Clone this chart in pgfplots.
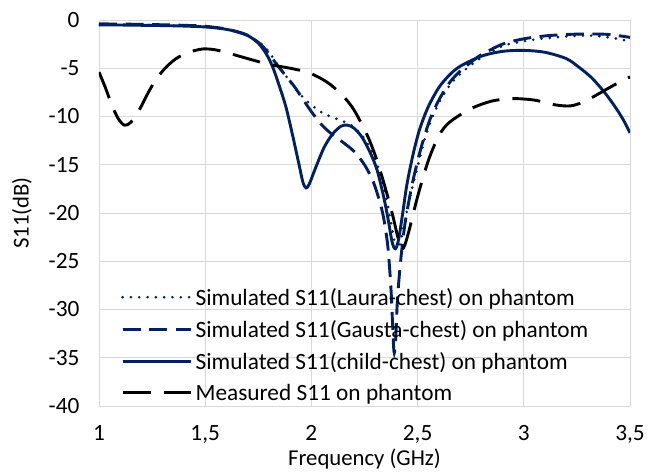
\documentclass[border=0pt]{standalone}
\usepackage{pgfplots}
\pgfplotsset{compat=1.18}
\usepackage{fontspec}
\setmainfont{Carlito}
\definecolor{navy}{HTML}{002060}
\definecolor{gridgray}{HTML}{D9D9D9}
\newcommand{\chartfont}{\fontsize{23.4}{28}\selectfont}
\begin{document}
\begin{tikzpicture}
\path[use as bounding box] (-99bp,-66bp) rectangle (555bp,406bp);
\begin{axis}[
    at={(0,0)}, anchor=south west,
    scale only axis,
    width=531bp, height=386bp,
    xmin=1, xmax=3.5, ymin=-40, ymax=0,
    xtick={1,1.5,2,2.5,3,3.5},
    ytick={-40,-35,-30,-25,-20,-15,-10,-5,0},
    major tick length=0pt,
    grid=major,
    major grid style={gridgray, line width=0.9bp},
    axis line style={gridgray, line width=0.9bp},
    /pgf/number format/use comma,
    /pgf/number format/assume math mode=true,
    tick label style={font=\chartfont, black},
    xticklabel style={yshift=-16bp},
    yticklabel style={xshift=-16bp},
    xlabel={Frequency (GHz)},
    ylabel={S11(dB)},
    label style={font=\fontsize{22.8}{27}\selectfont},
    xlabel style={at={(axis description cs:0.5,-0.137)}, anchor=center},
    ylabel style={at={(axis description cs:-0.145,0.5)}, anchor=center, rotate=0},
    legend cell align=left,
    legend image code/.code={\draw[#1] (0bp,0bp) -- (68bp,0bp);},
    legend style={font=\chartfont, draw=none, fill=none,
        inner sep=0pt, outer sep=0pt, row sep=9.5bp,
        nodes={inner xsep=3.5bp, inner ysep=2bp},
        at={(axis description cs:0.0418,0.311)}, anchor=north west},
    every axis plot/.append style={line width=2.9bp, smooth},
]
\addplot[navy, line cap=round, dash pattern=on 0bp off 8.3bp] coordinates {
(1.0,-0.45) (1.2,-0.5) (1.4,-0.6) (1.5,-0.7) (1.6,-0.95) (1.7,-1.6) (1.76,-2.4)
(1.8,-3.3) (1.84,-4.6) (1.88,-5.8) (1.92,-7.0) (1.96,-8.0) (2.0,-8.8) (2.05,-9.6)
(2.1,-10.1) (2.15,-10.5) (2.2,-11.1) (2.25,-12.3) (2.29,-13.9) (2.32,-15.7)
(2.35,-18.2) (2.37,-20.4) (2.39,-22.8) (2.405,-23.8) (2.42,-23.0) (2.44,-20.8)
(2.47,-17.8) (2.5,-15.2) (2.53,-12.6) (2.56,-10.6) (2.6,-8.6) (2.65,-6.8)
(2.7,-5.6) (2.75,-4.7) (2.8,-3.9) (2.9,-2.7) (3.0,-2.2) (3.1,-1.9) (3.2,-1.7)
(3.3,-1.6) (3.4,-1.8) (3.5,-2.2)
};
\addlegendentry{Simulated S11(Laura-chest) on phantom}
\addplot[navy, dash pattern=on 18bp off 8.5bp] coordinates {
(1.0,-0.4) (1.2,-0.45) (1.4,-0.55) (1.5,-0.65) (1.6,-0.95) (1.7,-1.6) (1.76,-2.5)
(1.8,-3.5) (1.84,-4.7) (1.88,-5.8) (1.92,-6.9) (1.96,-8.2) (2.0,-9.5) (2.05,-10.9)
(2.1,-11.9) (2.15,-12.7) (2.2,-13.6) (2.25,-15.0) (2.29,-16.7) (2.32,-18.7)
(2.34,-20.5) (2.36,-23.5) (2.375,-28) (2.385,-33) (2.39,-34.5) (2.397,-33)
(2.405,-29) (2.42,-25.0) (2.44,-21.2) (2.47,-17.5) (2.5,-14.6) (2.53,-12.2)
(2.56,-10.2) (2.6,-8.3) (2.65,-6.5) (2.7,-5.3) (2.75,-4.4) (2.8,-3.6) (2.9,-2.5)
(3.0,-1.95) (3.1,-1.65) (3.2,-1.5) (3.3,-1.45) (3.4,-1.5) (3.5,-1.8)
};
\addlegendentry{Simulated S11(Gausta-chest) on phantom}
\addplot[navy] coordinates {
(1.0,-0.5) (1.1,-0.52) (1.2,-0.55) (1.3,-0.58) (1.4,-0.63) (1.5,-0.72) (1.58,-0.9)
(1.65,-1.2) (1.7,-1.6) (1.75,-2.4) (1.79,-3.6) (1.82,-5.0) (1.85,-6.9) (1.88,-9.0)
(1.91,-11.8) (1.94,-14.8) (1.96,-16.8) (1.975,-17.4) (1.99,-17.0) (2.02,-15.3)
(2.06,-13.2) (2.1,-11.8) (2.14,-11.0) (2.17,-10.9) (2.2,-11.2) (2.24,-12.2)
(2.28,-13.9) (2.31,-15.6) (2.34,-18.3) (2.36,-20.5) (2.38,-23.0) (2.395,-23.7)
(2.41,-22.8) (2.43,-20.0) (2.45,-17.0) (2.48,-13.8) (2.51,-11.3) (2.55,-9.0)
(2.6,-7.0) (2.65,-5.7) (2.7,-4.8) (2.8,-3.75) (2.9,-3.25) (3.0,-3.15) (3.1,-3.35)
(3.2,-4.0) (3.26,-4.9) (3.32,-6.0) (3.38,-7.5) (3.43,-9.0) (3.47,-10.4) (3.5,-11.7)
};
\addlegendentry{Simulated S11(child-chest) on phantom}
\addplot[black, dash pattern=on 28bp off 13bp] coordinates {
(1.0,-5.4) (1.03,-7.0) (1.06,-8.8) (1.09,-10.2) (1.12,-10.9) (1.15,-10.6)
(1.19,-9.3) (1.23,-7.6) (1.27,-6.1) (1.32,-4.8) (1.37,-3.9) (1.43,-3.3)
(1.49,-3.0) (1.55,-3.1) (1.62,-3.5) (1.7,-4.0) (1.8,-4.6) (1.9,-5.0) (1.98,-5.4)
(2.04,-6.0) (2.09,-6.7) (2.15,-7.9) (2.2,-9.3) (2.26,-11.8) (2.3,-14.0)
(2.34,-16.8) (2.38,-20.0) (2.41,-22.8) (2.425,-23.8) (2.44,-23.3) (2.46,-21.8)
(2.5,-18.3) (2.55,-14.6) (2.6,-12.0) (2.65,-10.6) (2.75,-9.2) (2.85,-8.4)
(2.95,-8.15) (3.05,-8.3) (3.15,-8.8) (3.22,-8.9) (3.28,-8.5) (3.34,-7.8)
(3.42,-6.8) (3.5,-5.9)
};
\addlegendentry{Measured S11 on phantom}
\end{axis}
\end{tikzpicture}
\end{document}
